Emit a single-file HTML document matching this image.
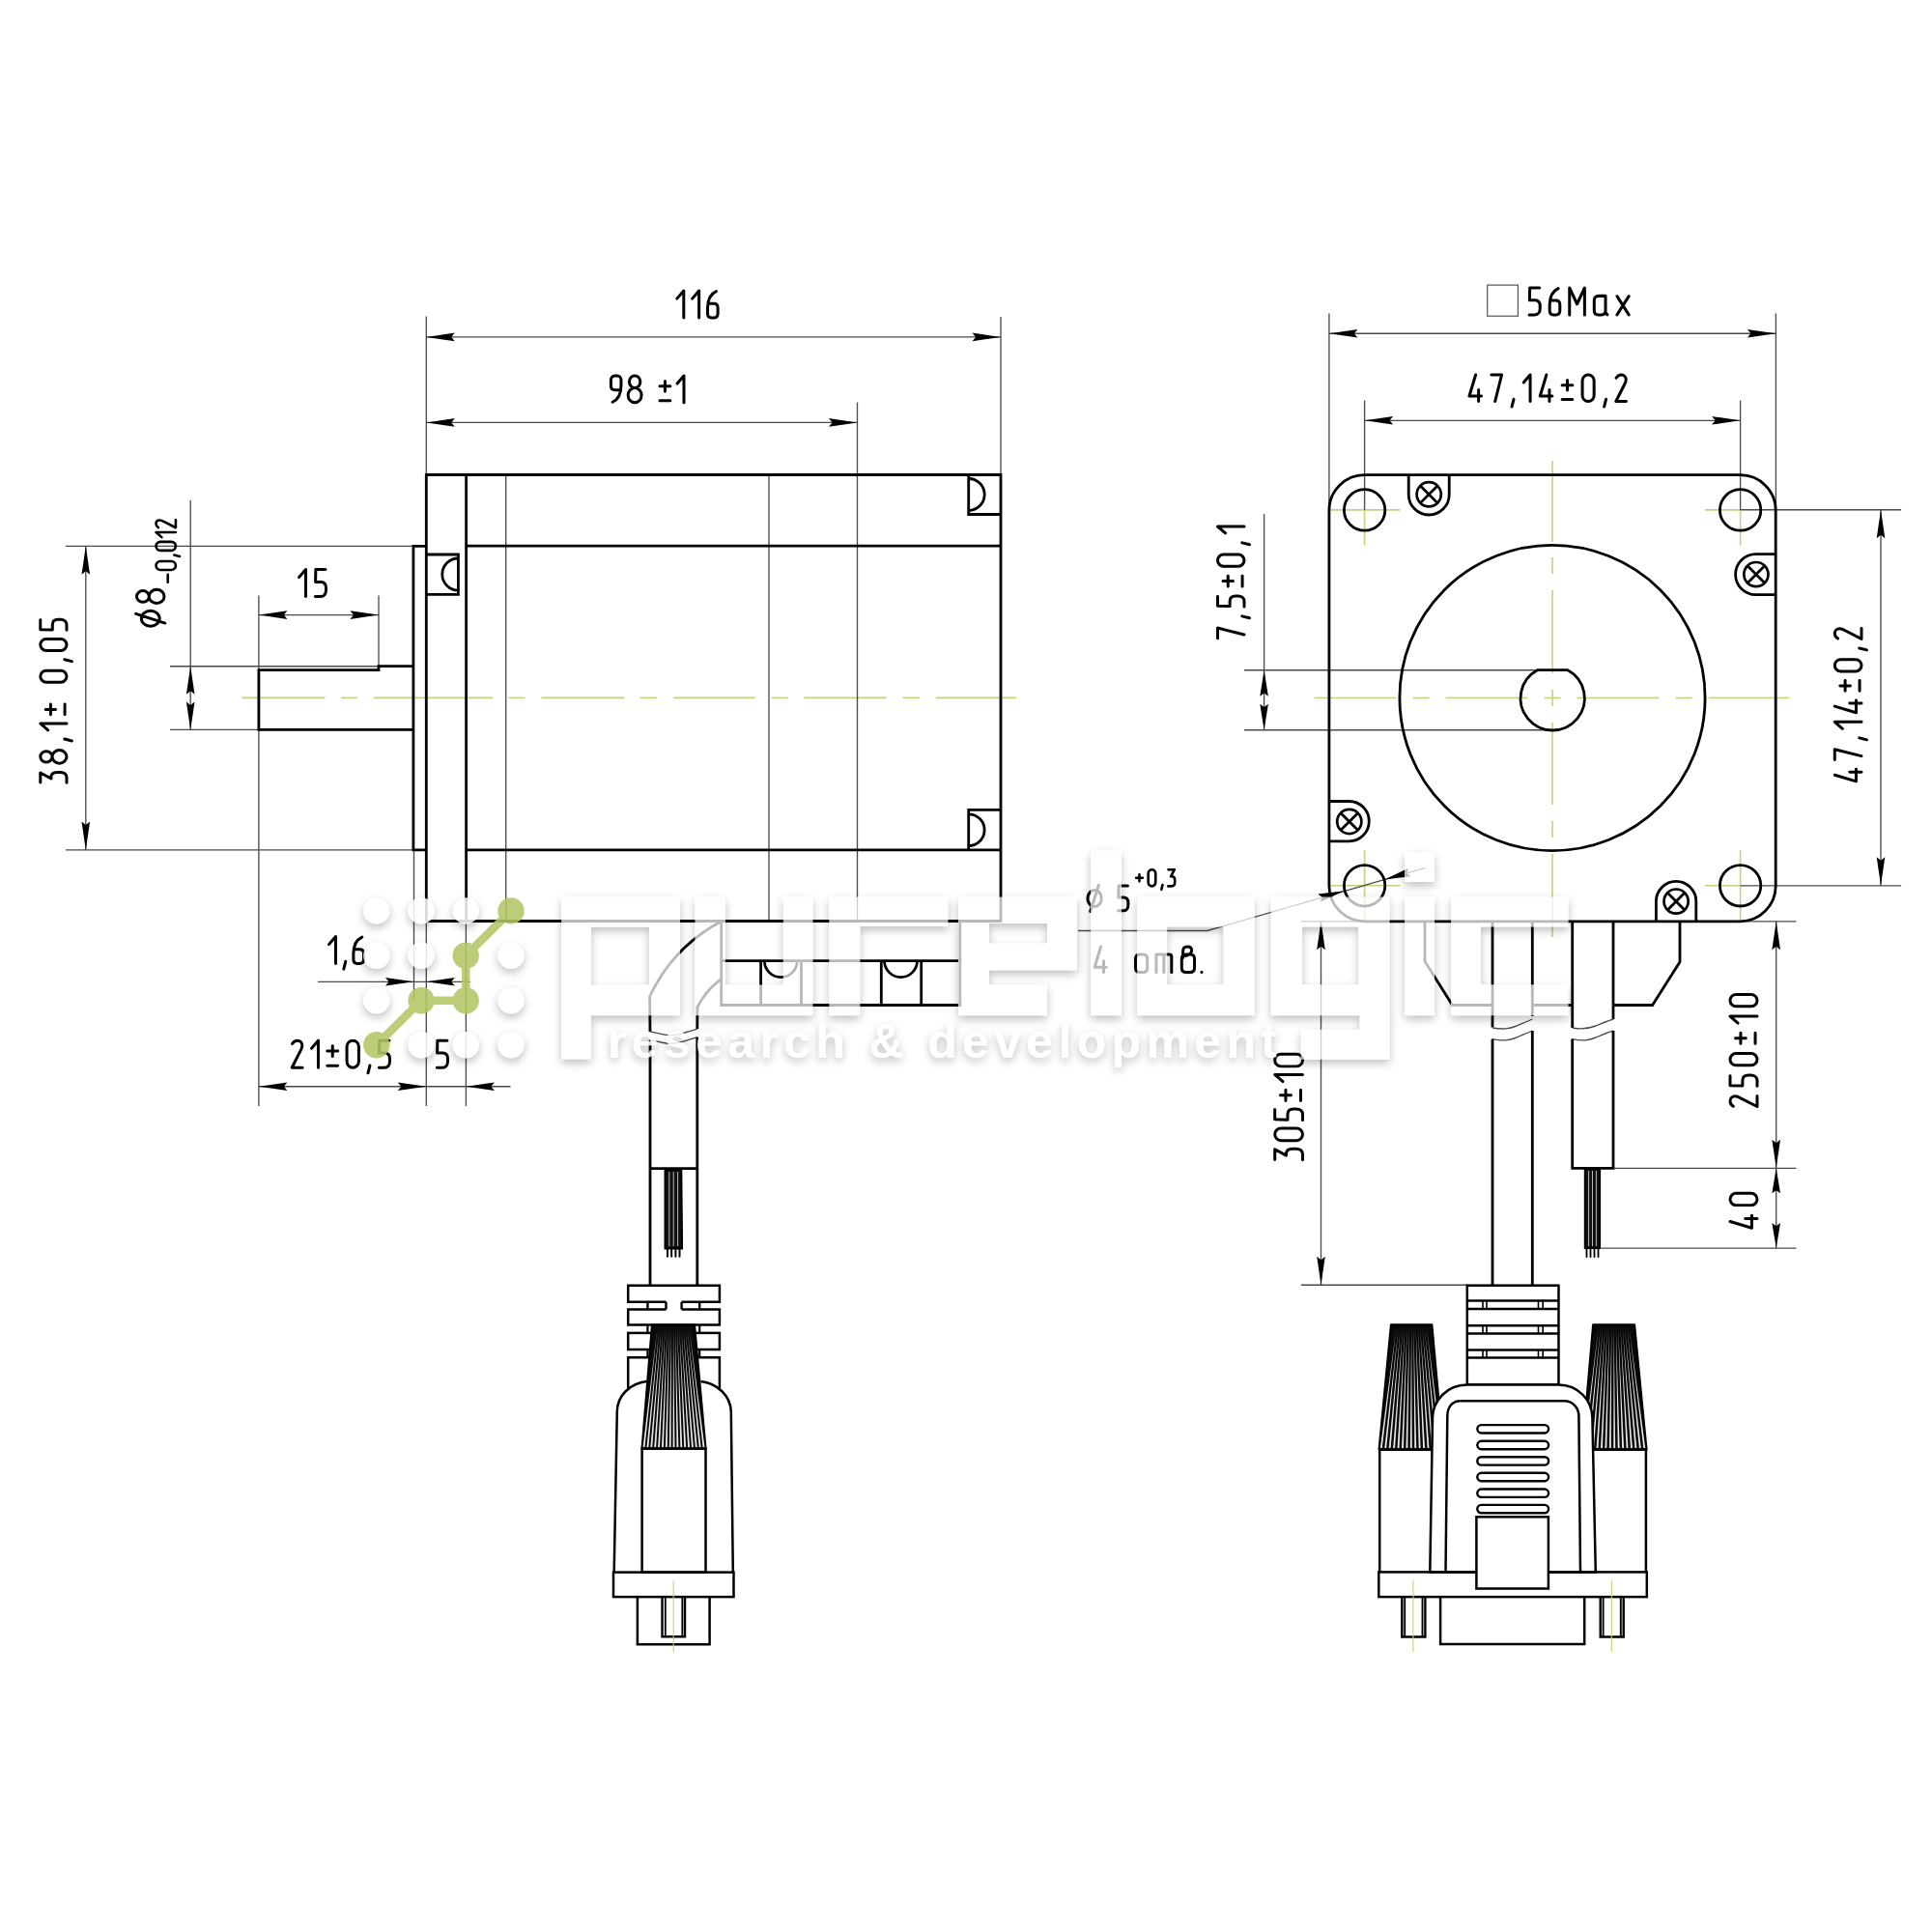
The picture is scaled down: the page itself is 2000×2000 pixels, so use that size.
<!DOCTYPE html>
<html><head><meta charset="utf-8"><style>
html,body{margin:0;padding:0;background:#fff;}
body{width:2000px;height:2000px;overflow:hidden;font-family:"Liberation Sans",sans-serif;}
svg{display:block;}
</style></head><body>
<svg width="2000" height="2000" viewBox="0 0 2000 2000">
<defs>
<filter id="sh" x="-20%" y="-20%" width="140%" height="160%">
<feGaussianBlur in="SourceAlpha" stdDeviation="5"/>
<feOffset dx="0" dy="4" result="b"/>
<feComposite in="b" in2="SourceAlpha" operator="out" result="o"/>
<feComponentTransfer in="o"><feFuncA type="linear" slope="0.25"/></feComponentTransfer>
</filter>
</defs>
<rect width="2000" height="2000" fill="#fff"/>
<line x1="250.6" y1="722.4" x2="336.6" y2="722.4" stroke="#c3d27c" stroke-width="1.6"/>
<line x1="353.1" y1="722.4" x2="370.1" y2="722.4" stroke="#c3d27c" stroke-width="1.6"/>
<line x1="387.1" y1="722.4" x2="510" y2="722.4" stroke="#c3d27c" stroke-width="1.6"/>
<line x1="526.5" y1="722.4" x2="543.5" y2="722.4" stroke="#c3d27c" stroke-width="1.6"/>
<line x1="560.5" y1="722.4" x2="646.4" y2="722.4" stroke="#c3d27c" stroke-width="1.6"/>
<line x1="662.4" y1="722.4" x2="679.8" y2="722.4" stroke="#c3d27c" stroke-width="1.6"/>
<line x1="697" y1="722.4" x2="781.7" y2="722.4" stroke="#c3d27c" stroke-width="1.6"/>
<line x1="798.7" y1="722.4" x2="815.7" y2="722.4" stroke="#c3d27c" stroke-width="1.6"/>
<line x1="832.4" y1="722.4" x2="917.8" y2="722.4" stroke="#c3d27c" stroke-width="1.6"/>
<line x1="934.6" y1="722.4" x2="952" y2="722.4" stroke="#c3d27c" stroke-width="1.6"/>
<line x1="968.7" y1="722.4" x2="1052.4" y2="722.4" stroke="#c3d27c" stroke-width="1.6"/>
<line x1="441.3" y1="327.5" x2="441.3" y2="491.5" stroke="#4a4a4a" stroke-width="1.35"/>
<line x1="1036" y1="328" x2="1036" y2="491.5" stroke="#4a4a4a" stroke-width="1.35"/>
<line x1="441.3" y1="348.9" x2="1036" y2="348.9" stroke="#4a4a4a" stroke-width="1.35"/>
<path d="M441.3,348.9 L470.8,344.6 L467.26,348.9 L470.8,353.2Z" fill="#000" stroke="none"/>
<path d="M1036,348.9 L1006.5,353.2 L1010.04,348.9 L1006.5,344.6Z" fill="#000" stroke="none"/>
<line x1="887.5" y1="416.5" x2="887.5" y2="953.5" stroke="#4a4a4a" stroke-width="1.35"/>
<line x1="441.3" y1="437.4" x2="887.5" y2="437.4" stroke="#4a4a4a" stroke-width="1.35"/>
<path d="M441.3,437.4 L470.8,433.1 L467.26,437.4 L470.8,441.7Z" fill="#000" stroke="none"/>
<path d="M887.5,437.4 L858,441.7 L861.54,437.4 L858,433.1Z" fill="#000" stroke="none"/>
<line x1="523.7" y1="491.5" x2="523.7" y2="953.5" stroke="#4a4a4a" stroke-width="1.35"/>
<line x1="796" y1="491.5" x2="796" y2="953.5" stroke="#4a4a4a" stroke-width="1.35"/>
<line x1="68" y1="565.3" x2="427.9" y2="565.3" stroke="#4a4a4a" stroke-width="1.35"/>
<line x1="68" y1="879.9" x2="427.9" y2="879.9" stroke="#4a4a4a" stroke-width="1.35"/>
<line x1="88.8" y1="565.3" x2="88.8" y2="879.9" stroke="#4a4a4a" stroke-width="1.35"/>
<path d="M88.8,565.3 L93.1,594.8 L88.8,591.26 L84.5,594.8Z" fill="#000" stroke="none"/>
<path d="M88.8,879.9 L84.5,850.4 L88.8,853.94 L93.1,850.4Z" fill="#000" stroke="none"/>
<line x1="197.2" y1="518" x2="197.2" y2="755.4" stroke="#4a4a4a" stroke-width="1.35"/>
<line x1="176" y1="689.7" x2="392" y2="689.7" stroke="#4a4a4a" stroke-width="1.35"/>
<line x1="176" y1="755.4" x2="267.9" y2="755.4" stroke="#4a4a4a" stroke-width="1.35"/>
<path d="M197.2,689.7 L201.5,718.7 L197.2,715.22 L192.9,718.7Z" fill="#000" stroke="none"/>
<path d="M197.2,755.4 L192.9,726.4 L197.2,729.88 L201.5,726.4Z" fill="#000" stroke="none"/>
<line x1="267.9" y1="616.5" x2="267.9" y2="1145" stroke="#4a4a4a" stroke-width="1.35"/>
<line x1="392" y1="616.5" x2="392" y2="689.7" stroke="#4a4a4a" stroke-width="1.35"/>
<line x1="267.9" y1="636.6" x2="392" y2="636.6" stroke="#4a4a4a" stroke-width="1.35"/>
<path d="M267.9,636.6 L297.4,632.3 L293.86,636.6 L297.4,640.9Z" fill="#000" stroke="none"/>
<path d="M392,636.6 L362.5,640.9 L366.04,636.6 L362.5,632.3Z" fill="#000" stroke="none"/>
<line x1="428.5" y1="880" x2="428.5" y2="1036" stroke="#4a4a4a" stroke-width="1.35"/>
<line x1="441.3" y1="953.5" x2="441.3" y2="1145" stroke="#4a4a4a" stroke-width="1.35"/>
<line x1="482.4" y1="953.5" x2="482.4" y2="1145" stroke="#4a4a4a" stroke-width="1.35"/>
<line x1="329" y1="1016.3" x2="487" y2="1016.3" stroke="#4a4a4a" stroke-width="1.35"/>
<path d="M428.5,1016.3 L399,1020.6 L402.54,1016.3 L399,1012Z" fill="#000" stroke="none"/>
<path d="M441.3,1016.3 L470.8,1012 L467.26,1016.3 L470.8,1020.6Z" fill="#000" stroke="none"/>
<line x1="267.9" y1="1124.7" x2="528.5" y2="1124.7" stroke="#4a4a4a" stroke-width="1.35"/>
<path d="M267.9,1124.7 L297.4,1120.4 L293.86,1124.7 L297.4,1129Z" fill="#000" stroke="none"/>
<path d="M441.3,1124.7 L411.8,1129 L415.34,1124.7 L411.8,1120.4Z" fill="#000" stroke="none"/>
<path d="M482.4,1124.7 L511.9,1120.4 L508.36,1124.7 L511.9,1129Z" fill="#000" stroke="none"/>
<path d="M441.3,953.5 L441.3,491.5 L1036,491.5 L1036,953.5 L441.3,953.5" stroke="#000" stroke-width="2.8" fill="none"/>
<line x1="482.6" y1="491.5" x2="482.6" y2="953.5" stroke="#000" stroke-width="2.8"/>
<line x1="482.6" y1="565.2" x2="1036" y2="565.2" stroke="#000" stroke-width="2.8"/>
<line x1="482.6" y1="879.9" x2="1036" y2="879.9" stroke="#000" stroke-width="2.8"/>
<path d="M441.3,565.4 L427.9,565.4 L427.9,879.9 L441.3,879.9" stroke="#000" stroke-width="2.8" fill="none"/>
<path d="M427.9,689.7 L392,689.7 L392,693.6 L267.9,693.6 L267.9,755.4 L427.9,755.4" stroke="#000" stroke-width="2.8" fill="none"/>
<path d="M441.3,574 L474.4,574 L474.4,615.3 L441.3,615.3" stroke="#000" stroke-width="2.8" fill="none"/>
<path d="M474.4,578 A16.6,16.6 0 0 0 474.4,611.2" stroke="#000" stroke-width="2.8" fill="none"/>
<path d="M1002.7,491.5 L1002.7,532.5 L1036,532.5" stroke="#000" stroke-width="2.8" fill="none"/>
<path d="M1002.7,495.5 A16.45,16.45 0 0 1 1002.7,528.4" stroke="#000" stroke-width="2.8" fill="none"/>
<path d="M1036,838.4 L1002.7,838.4 L1002.7,879.9" stroke="#000" stroke-width="2.8" fill="none"/>
<path d="M1002.7,842.8 A16.4,16.4 0 0 1 1002.7,875.6" stroke="#000" stroke-width="2.8" fill="none"/>
<path d="M746.7,953.5 L746.7,1040.5 L993.8,1040.5 L993.8,953.5" stroke="#000" stroke-width="2.8" fill="none"/>
<line x1="746.7" y1="994.6" x2="993.8" y2="994.6" stroke="#000" stroke-width="2.8"/>
<line x1="787.6" y1="994.6" x2="787.6" y2="1040.5" stroke="#000" stroke-width="2.8"/>
<line x1="829.5" y1="994.6" x2="829.5" y2="1040.5" stroke="#000" stroke-width="2.8"/>
<line x1="912.3" y1="994.6" x2="912.3" y2="1040.5" stroke="#000" stroke-width="2.8"/>
<line x1="953.7" y1="994.6" x2="953.7" y2="1040.5" stroke="#000" stroke-width="2.8"/>
<path d="M791.3,994.6 A17,17 0 0 0 825.3,994.6" stroke="#000" stroke-width="2.8" fill="none"/>
<path d="M915.5,994.6 A17,17 0 0 0 949.5,994.6" stroke="#000" stroke-width="2.8" fill="none"/>
<path d="M746.7,953.8 A170.5,170.5 0 0 0 672.6,1031.5 L673,1067.9" stroke="#000" stroke-width="2.8" fill="none"/>
<path d="M746.7,1013.3 A84.2,84.2 0 0 0 721.9,1042.7 L721.8,1065.1" stroke="#000" stroke-width="2.8" fill="none"/>
<path d="M672.6,1067.9 C683,1069.5 688,1071.7 694,1071.7 C704,1071.7 713,1067.5 721.9,1065.1" stroke="#4a4a4a" stroke-width="1.35" fill="none"/>
<path d="M672.6,1076.6 C683,1078.2 688,1080.4 694,1080.4 C704,1080.4 713,1076.2 721.9,1073.7" stroke="#4a4a4a" stroke-width="1.35" fill="none"/>
<line x1="673" y1="1076.6" x2="673" y2="1330.7" stroke="#000" stroke-width="2.8"/>
<line x1="721.8" y1="1073.7" x2="721.8" y2="1330.7" stroke="#000" stroke-width="2.8"/>
<line x1="673" y1="1209.6" x2="721.8" y2="1209.6" stroke="#000" stroke-width="2.8"/>
<path d="M688.5,1211 V1292.4 H706.1 L705.3,1211 Z" fill="#111" stroke="#000" stroke-width="2"/>
<line x1="692.8" y1="1213" x2="692.8" y2="1290" stroke="#fff" stroke-width="0.7"/>
<line x1="697.2" y1="1213" x2="697.2" y2="1290" stroke="#fff" stroke-width="0.7"/>
<line x1="701.6" y1="1213" x2="701.6" y2="1290" stroke="#fff" stroke-width="0.7"/>
<line x1="691" y1="1292" x2="691" y2="1300.7" stroke="#000" stroke-width="2" stroke-linecap="round"/>
<line x1="695.2" y1="1292" x2="695.2" y2="1300.7" stroke="#000" stroke-width="2" stroke-linecap="round"/>
<line x1="699.4" y1="1292" x2="699.4" y2="1300.7" stroke="#000" stroke-width="2" stroke-linecap="round"/>
<line x1="703.5" y1="1292" x2="703.5" y2="1300.7" stroke="#000" stroke-width="2" stroke-linecap="round"/>
<path d="M689.5,1347.8 H650.2 V1330.7 H744.9 V1347.8 H705.6 M689.5,1355.6 H650.2 V1371.6 H744.9 V1355.6 H705.6" stroke="#000" stroke-width="2.5" fill="none"/>
<path d="M670.4,1347.8 V1355.6 M689.5,1347.8 V1355.6 M705.6,1347.8 V1355.6 M724.2,1347.8 V1355.6" stroke="#000" stroke-width="2.4" fill="none"/>
<line x1="670.4" y1="1371.6" x2="670.4" y2="1379.9" stroke="#000" stroke-width="2.2"/>
<line x1="724.2" y1="1371.6" x2="724.2" y2="1379.9" stroke="#000" stroke-width="2.2"/>
<rect x="650.2" y="1379.9" width="94.7" height="17.1" stroke="#000" stroke-width="2.5" fill="none"/>
<line x1="670.4" y1="1397" x2="670.4" y2="1405.3" stroke="#000" stroke-width="2.2"/>
<line x1="724.2" y1="1397" x2="724.2" y2="1405.3" stroke="#000" stroke-width="2.2"/>
<path d="M650.2,1437.3 L650.2,1405.3 L744.9,1405.3 L744.9,1437.3" stroke="#000" stroke-width="2.5" fill="none"/>
<path d="M669.4,1430 C652,1432 639,1445 638.8,1461 L635.7,1627.6" stroke="#000" stroke-width="2.5" fill="none"/>
<path d="M725.5,1430 C743,1432 756,1445 756.8,1461 L758.8,1627.6" stroke="#000" stroke-width="2.5" fill="none"/>
<path d="M675,1371.6 L719,1371.6 L730.5,1499.7 L664.6,1499.7 Z" fill="#0a0a0a" stroke="#000" stroke-width="2.2" stroke-linejoin="round"/>
<path d="M680.44,1375.44 L665.59,1498.2 L667.49,1498.2 Z M682.51,1375.44 L669.46,1498.2 L671.36,1498.2 Z M684.58,1375.44 L673.34,1498.2 L675.24,1498.2 Z M686.65,1375.44 L677.22,1498.2 L679.12,1498.2 Z M688.72,1375.44 L681.09,1498.2 L682.99,1498.2 Z M690.79,1375.44 L684.97,1498.2 L686.87,1498.2 Z M692.86,1375.44 L688.85,1498.2 L690.75,1498.2 Z M694.93,1375.44 L692.72,1498.2 L694.62,1498.2 Z M697,1375.44 L696.6,1498.2 L698.5,1498.2 Z M699.07,1375.44 L700.48,1498.2 L702.38,1498.2 Z M701.14,1375.44 L704.35,1498.2 L706.25,1498.2 Z M703.21,1375.44 L708.23,1498.2 L710.13,1498.2 Z M705.28,1375.44 L712.11,1498.2 L714.01,1498.2 Z M707.35,1375.44 L715.98,1498.2 L717.88,1498.2 Z M709.42,1375.44 L719.86,1498.2 L721.76,1498.2 Z M711.49,1375.44 L723.74,1498.2 L725.64,1498.2 Z M713.56,1375.44 L727.61,1498.2 L729.51,1498.2 Z" fill="#fff" opacity="0.9"/>
<rect x="664.6" y="1499.7" width="65.9" height="127.9" stroke="#000" stroke-width="2.5" fill="none"/>
<rect x="635" y="1627.6" width="124.5" height="25.5" stroke="#000" stroke-width="2.5" fill="none"/>
<path d="M659.9,1653.1 L659.9,1702.3 L734.6,1702.3 L734.6,1653.1" stroke="#000" stroke-width="2.5" fill="none"/>
<path d="M685.5,1653.1 L685.5,1694.2 L709,1694.2 L709,1653.1" stroke="#000" stroke-width="2.4" fill="none"/>
<line x1="688.8" y1="1653.1" x2="688.8" y2="1694.2" stroke="#000" stroke-width="1.8"/>
<line x1="706.3" y1="1653.1" x2="706.3" y2="1694.2" stroke="#000" stroke-width="1.8"/>
<line x1="697.2" y1="1636.3" x2="697.2" y2="1710.3" stroke="#c3d27c" stroke-width="1.1"/>
<line x1="1360.5" y1="722.5" x2="1445.5" y2="722.5" stroke="#c3d27c" stroke-width="1.6"/>
<line x1="1462.5" y1="722.5" x2="1479.5" y2="722.5" stroke="#c3d27c" stroke-width="1.6"/>
<line x1="1496.5" y1="722.5" x2="1581.5" y2="722.5" stroke="#c3d27c" stroke-width="1.6"/>
<line x1="1598.5" y1="722.5" x2="1615.5" y2="722.5" stroke="#c3d27c" stroke-width="1.6"/>
<line x1="1632.5" y1="722.5" x2="1717.5" y2="722.5" stroke="#c3d27c" stroke-width="1.6"/>
<line x1="1734.5" y1="722.5" x2="1751.5" y2="722.5" stroke="#c3d27c" stroke-width="1.6"/>
<line x1="1768.5" y1="722.5" x2="1852.5" y2="722.5" stroke="#c3d27c" stroke-width="1.6"/>
<line x1="1607" y1="477" x2="1607" y2="561" stroke="#c3d27c" stroke-width="1.6"/>
<line x1="1607" y1="577" x2="1607" y2="594" stroke="#c3d27c" stroke-width="1.6"/>
<line x1="1607" y1="611" x2="1607" y2="697" stroke="#c3d27c" stroke-width="1.6"/>
<line x1="1607" y1="714" x2="1607" y2="731" stroke="#c3d27c" stroke-width="1.6"/>
<line x1="1607" y1="748" x2="1607" y2="833" stroke="#c3d27c" stroke-width="1.6"/>
<line x1="1607" y1="850" x2="1607" y2="867" stroke="#c3d27c" stroke-width="1.6"/>
<line x1="1607" y1="884" x2="1607" y2="970" stroke="#c3d27c" stroke-width="1.6"/>
<line x1="1375.9" y1="527.9" x2="1449.3" y2="527.9" stroke="#c3d27c" stroke-width="1.6"/>
<line x1="1412.6" y1="527.9" x2="1412.6" y2="564.6" stroke="#c3d27c" stroke-width="1.6"/>
<line x1="1764.9" y1="527.9" x2="1801.6" y2="527.9" stroke="#c3d27c" stroke-width="1.6"/>
<line x1="1801.6" y1="527.9" x2="1801.6" y2="564.6" stroke="#c3d27c" stroke-width="1.6"/>
<line x1="1375.9" y1="916.8" x2="1449.3" y2="916.8" stroke="#c3d27c" stroke-width="1.6"/>
<line x1="1412.6" y1="880.1" x2="1412.6" y2="953.5" stroke="#c3d27c" stroke-width="1.6"/>
<line x1="1764.9" y1="916.8" x2="1801.6" y2="916.8" stroke="#c3d27c" stroke-width="1.6"/>
<line x1="1801.6" y1="880.1" x2="1801.6" y2="953.5" stroke="#c3d27c" stroke-width="1.6"/>
<line x1="1375.9" y1="324.5" x2="1375.9" y2="528.4" stroke="#4a4a4a" stroke-width="1.35"/>
<line x1="1838.4" y1="324.5" x2="1838.4" y2="528.4" stroke="#4a4a4a" stroke-width="1.35"/>
<line x1="1375.9" y1="345.2" x2="1838.4" y2="345.2" stroke="#4a4a4a" stroke-width="1.35"/>
<path d="M1375.9,345.2 L1405.4,340.9 L1401.86,345.2 L1405.4,349.5Z" fill="#000" stroke="none"/>
<path d="M1838.4,345.2 L1808.9,349.5 L1812.44,345.2 L1808.9,340.9Z" fill="#000" stroke="none"/>
<rect x="1539.7" y="295.1" width="31.7" height="32.1" stroke="#555" stroke-width="1.2" fill="none"/>
<line x1="1412.6" y1="414.6" x2="1412.6" y2="527.9" stroke="#4a4a4a" stroke-width="1.35"/>
<line x1="1801.6" y1="414.6" x2="1801.6" y2="527.9" stroke="#4a4a4a" stroke-width="1.35"/>
<line x1="1412.6" y1="435.3" x2="1801.6" y2="435.3" stroke="#4a4a4a" stroke-width="1.35"/>
<path d="M1412.6,435.3 L1442.1,431 L1438.56,435.3 L1442.1,439.6Z" fill="#000" stroke="none"/>
<path d="M1801.6,435.3 L1772.1,439.6 L1775.64,435.3 L1772.1,431Z" fill="#000" stroke="none"/>
<line x1="1801.6" y1="527.7" x2="1968.1" y2="527.7" stroke="#4a4a4a" stroke-width="1.35"/>
<line x1="1801.6" y1="916.8" x2="1968.1" y2="916.8" stroke="#4a4a4a" stroke-width="1.35"/>
<line x1="1947" y1="527.7" x2="1947" y2="916.8" stroke="#4a4a4a" stroke-width="1.35"/>
<path d="M1947,527.7 L1951.3,557.2 L1947,553.66 L1942.7,557.2Z" fill="#000" stroke="none"/>
<path d="M1947,916.8 L1942.7,887.3 L1947,890.84 L1951.3,887.3Z" fill="#000" stroke="none"/>
<line x1="1288" y1="693.7" x2="1591.4" y2="693.7" stroke="#4a4a4a" stroke-width="1.35"/>
<line x1="1288" y1="755.7" x2="1607" y2="755.7" stroke="#4a4a4a" stroke-width="1.35"/>
<line x1="1308.6" y1="532.2" x2="1308.6" y2="755.7" stroke="#4a4a4a" stroke-width="1.35"/>
<path d="M1308.6,693.7 L1312.9,720.7 L1308.6,717.46 L1304.3,720.7Z" fill="#000" stroke="none"/>
<path d="M1308.6,755.7 L1304.3,728.7 L1308.6,731.94 L1312.9,728.7Z" fill="#000" stroke="none"/>
<line x1="1801.6" y1="953.8" x2="1859.4" y2="953.8" stroke="#4a4a4a" stroke-width="1.35"/>
<line x1="1670.4" y1="1209.3" x2="1859.4" y2="1209.3" stroke="#4a4a4a" stroke-width="1.35"/>
<line x1="1657.5" y1="1292.1" x2="1859.4" y2="1292.1" stroke="#4a4a4a" stroke-width="1.35"/>
<line x1="1838.7" y1="953.8" x2="1838.7" y2="1292.1" stroke="#4a4a4a" stroke-width="1.35"/>
<path d="M1838.7,953.8 L1843,983.3 L1838.7,979.76 L1834.4,983.3Z" fill="#000" stroke="none"/>
<path d="M1838.7,1209.3 L1834.4,1179.8 L1838.7,1183.34 L1843,1179.8Z" fill="#000" stroke="none"/>
<path d="M1838.7,1209.3 L1843,1235.3 L1838.7,1232.18 L1834.4,1235.3Z" fill="#000" stroke="none"/>
<path d="M1838.7,1292.1 L1834.4,1266.1 L1838.7,1269.22 L1843,1266.1Z" fill="#000" stroke="none"/>
<line x1="1346.9" y1="953.8" x2="1412" y2="953.8" stroke="#4a4a4a" stroke-width="1.35"/>
<line x1="1346.9" y1="1330.2" x2="1518.8" y2="1330.2" stroke="#4a4a4a" stroke-width="1.35"/>
<line x1="1367.5" y1="953.8" x2="1367.5" y2="1330.2" stroke="#4a4a4a" stroke-width="1.35"/>
<path d="M1367.5,953.8 L1371.8,983.3 L1367.5,979.76 L1363.2,983.3Z" fill="#000" stroke="none"/>
<path d="M1367.5,1330.2 L1363.2,1300.7 L1367.5,1304.24 L1371.8,1300.7Z" fill="#000" stroke="none"/>
<path d="M1116,963.5 L1249.8,963.5 L1475.4,898.3" stroke="#4a4a4a" stroke-width="1.35" fill="none"/>
<path d="M1391.5,922.2 L1366.76,933.83 L1368.67,928.8 L1364.37,925.57Z" fill="#000" stroke="none"/>
<path d="M1433.2,910.5 L1457.94,898.87 L1456.03,903.9 L1460.33,907.13Z" fill="#000" stroke="none"/>
<path d="M1412.6,491.7 H1801.5 A36.7,36.7 0 0 1 1838.2,528.4 V917.1 A36.7,36.7 0 0 1 1801.5,953.8 H1412.6 A36.7,36.7 0 0 1 1375.9,917.1 V528.4 A36.7,36.7 0 0 1 1412.6,491.7 Z" stroke="#000" stroke-width="2.8" fill="none"/>
<circle cx="1412.6" cy="527.9" r="21.2" stroke="#000" stroke-width="2.8" fill="none"/>
<circle cx="1801.6" cy="527.9" r="21.2" stroke="#000" stroke-width="2.8" fill="none"/>
<circle cx="1412.6" cy="916.8" r="21.2" stroke="#000" stroke-width="2.8" fill="none"/>
<circle cx="1801.6" cy="916.8" r="21.2" stroke="#000" stroke-width="2.8" fill="none"/>
<circle cx="1607" cy="722.5" r="158.1" stroke="#000" stroke-width="2.8" fill="none"/>
<path d="M1591.4,693.7 H1623 A33.15,33.15 0 1 1 1591.4,693.7 Z" stroke="#000" stroke-width="2.8" fill="none"/>
<path d="M1458.2,491.7 V512 A21,21 0 0 0 1500.2,512 V491.7" stroke="#000" stroke-width="2.8" fill="none"/>
<circle cx="1479.2" cy="511.8" r="12.6" stroke="#000" stroke-width="2.7" fill="none"/>
<line x1="1470.13" y1="502.73" x2="1488.27" y2="520.87" stroke="#000" stroke-width="2.8"/>
<line x1="1470.13" y1="520.87" x2="1488.27" y2="502.73" stroke="#000" stroke-width="2.8"/>
<path d="M1838.2,573.7 H1817.6 A21,21 0 0 0 1817.6,615.7 H1838.2" stroke="#000" stroke-width="2.8" fill="none"/>
<circle cx="1817.9" cy="594.6" r="12.6" stroke="#000" stroke-width="2.7" fill="none"/>
<line x1="1808.83" y1="585.53" x2="1826.97" y2="603.67" stroke="#000" stroke-width="2.8"/>
<line x1="1808.83" y1="603.67" x2="1826.97" y2="585.53" stroke="#000" stroke-width="2.8"/>
<path d="M1375.9,829.5 H1396.6 A20.65,20.65 0 0 1 1396.6,870.8 H1375.9" stroke="#000" stroke-width="2.8" fill="none"/>
<circle cx="1396.8" cy="850.5" r="12.6" stroke="#000" stroke-width="2.7" fill="none"/>
<line x1="1387.73" y1="841.43" x2="1405.87" y2="859.57" stroke="#000" stroke-width="2.8"/>
<line x1="1387.73" y1="859.57" x2="1405.87" y2="841.43" stroke="#000" stroke-width="2.8"/>
<path d="M1714.4,953.8 V933.1 A20.7,20.7 0 0 1 1755.8,933.1 V953.8" stroke="#000" stroke-width="2.8" fill="none"/>
<circle cx="1735.1" cy="933.1" r="12.6" stroke="#000" stroke-width="2.7" fill="none"/>
<line x1="1726.03" y1="924.03" x2="1744.17" y2="942.17" stroke="#000" stroke-width="2.8"/>
<line x1="1726.03" y1="942.17" x2="1744.17" y2="924.03" stroke="#000" stroke-width="2.8"/>
<path d="M1475,953.8 L1475,995.2 L1503.5,1040.5 L1545,1040.5" stroke="#000" stroke-width="2.8" fill="none"/>
<path d="M1586.3,1040.5 L1627.7,1040.5" stroke="#000" stroke-width="2.8" fill="none"/>
<path d="M1670,1040.5 L1710.6,1040.5 L1739,995.8 L1739,953.8" stroke="#000" stroke-width="2.8" fill="none"/>
<line x1="1545" y1="953.8" x2="1545" y2="1063.5" stroke="#000" stroke-width="2.8"/>
<line x1="1586.3" y1="953.8" x2="1586.3" y2="1052" stroke="#000" stroke-width="2.8"/>
<path d="M1545,1064 C1556,1066 1562,1065 1570,1062 C1577,1059 1582,1057 1586.3,1055" stroke="#4a4a4a" stroke-width="1.35" fill="none"/>
<path d="M1545,1075.6 C1556,1078 1562,1077 1570,1074 C1577,1071 1582,1069 1586.3,1067" stroke="#4a4a4a" stroke-width="1.35" fill="none"/>
<line x1="1545" y1="1075.6" x2="1545" y2="1330.7" stroke="#000" stroke-width="2.8"/>
<line x1="1586.3" y1="1067" x2="1586.3" y2="1330.7" stroke="#000" stroke-width="2.8"/>
<line x1="1627.7" y1="953.8" x2="1627.7" y2="1064" stroke="#000" stroke-width="2.8"/>
<line x1="1670" y1="953.8" x2="1670" y2="1055" stroke="#000" stroke-width="2.8"/>
<path d="M1627.7,1064 C1638,1066 1644,1065 1652,1062 C1659,1059 1664,1057 1670,1055" stroke="#4a4a4a" stroke-width="1.35" fill="none"/>
<path d="M1627.7,1075.6 C1638,1078 1644,1077 1652,1074 C1659,1071 1664,1069 1670,1067" stroke="#4a4a4a" stroke-width="1.35" fill="none"/>
<path d="M1627.7,1075.6 L1627.7,1209.3 L1670,1209.3 L1670,1067" stroke="#000" stroke-width="2.8" fill="none"/>
<path d="M1640.7,1210 V1292 H1656.2 V1210 Z" fill="#111" stroke="#000" stroke-width="1.8"/>
<line x1="1644.6" y1="1212" x2="1644.6" y2="1290" stroke="#fff" stroke-width="0.7"/>
<line x1="1648.5" y1="1212" x2="1648.5" y2="1290" stroke="#fff" stroke-width="0.7"/>
<line x1="1652.4" y1="1212" x2="1652.4" y2="1290" stroke="#fff" stroke-width="0.7"/>
<line x1="1642.5" y1="1292" x2="1642.5" y2="1301" stroke="#000" stroke-width="1.8" stroke-linecap="round"/>
<line x1="1646.5" y1="1292" x2="1646.5" y2="1301" stroke="#000" stroke-width="1.8" stroke-linecap="round"/>
<line x1="1650.5" y1="1292" x2="1650.5" y2="1301" stroke="#000" stroke-width="1.8" stroke-linecap="round"/>
<line x1="1654.5" y1="1292" x2="1654.5" y2="1301" stroke="#000" stroke-width="1.8" stroke-linecap="round"/>
<rect x="1518.8" y="1330.7" width="94.7" height="102.8" stroke="#000" stroke-width="2.5" fill="none"/>
<line x1="1518.8" y1="1346.6" x2="1613.5" y2="1346.6" stroke="#000" stroke-width="2.5"/>
<line x1="1518.8" y1="1355.1" x2="1613.5" y2="1355.1" stroke="#000" stroke-width="2.5"/>
<line x1="1535" y1="1346.6" x2="1535" y2="1355.1" stroke="#000" stroke-width="1.6"/>
<line x1="1539" y1="1346.6" x2="1539" y2="1355.1" stroke="#000" stroke-width="1.6"/>
<line x1="1592.5" y1="1346.6" x2="1592.5" y2="1355.1" stroke="#000" stroke-width="1.6"/>
<line x1="1597.2" y1="1346.6" x2="1597.2" y2="1355.1" stroke="#000" stroke-width="1.6"/>
<line x1="1518.8" y1="1372.2" x2="1613.5" y2="1372.2" stroke="#000" stroke-width="2.5"/>
<line x1="1518.8" y1="1380.4" x2="1613.5" y2="1380.4" stroke="#000" stroke-width="2.5"/>
<line x1="1535" y1="1372.2" x2="1535" y2="1380.4" stroke="#000" stroke-width="1.6"/>
<line x1="1539" y1="1372.2" x2="1539" y2="1380.4" stroke="#000" stroke-width="1.6"/>
<line x1="1592.5" y1="1372.2" x2="1592.5" y2="1380.4" stroke="#000" stroke-width="1.6"/>
<line x1="1597.2" y1="1372.2" x2="1597.2" y2="1380.4" stroke="#000" stroke-width="1.6"/>
<line x1="1518.8" y1="1397.5" x2="1613.5" y2="1397.5" stroke="#000" stroke-width="2.5"/>
<line x1="1518.8" y1="1405.6" x2="1613.5" y2="1405.6" stroke="#000" stroke-width="2.5"/>
<line x1="1535" y1="1397.5" x2="1535" y2="1405.6" stroke="#000" stroke-width="1.6"/>
<line x1="1539" y1="1397.5" x2="1539" y2="1405.6" stroke="#000" stroke-width="1.6"/>
<line x1="1592.5" y1="1397.5" x2="1592.5" y2="1405.6" stroke="#000" stroke-width="1.6"/>
<line x1="1597.2" y1="1397.5" x2="1597.2" y2="1405.6" stroke="#000" stroke-width="1.6"/>
<path d="M1440,1371.4 L1482.3,1371.4 L1494,1500.5 L1427.6,1500.5 Z" fill="#0a0a0a" stroke="#000" stroke-width="2.2" stroke-linejoin="round"/>
<path d="M1445.36,1375.27 L1428.86,1499 L1430.76,1499 Z M1447.61,1375.27 L1433.29,1499 L1435.19,1499 Z M1449.87,1375.27 L1437.72,1499 L1439.62,1499 Z M1452.13,1375.27 L1442.14,1499 L1444.04,1499 Z M1454.38,1375.27 L1446.57,1499 L1448.47,1499 Z M1456.64,1375.27 L1451,1499 L1452.9,1499 Z M1458.89,1375.27 L1455.42,1499 L1457.32,1499 Z M1461.15,1375.27 L1459.85,1499 L1461.75,1499 Z M1463.41,1375.27 L1464.28,1499 L1466.18,1499 Z M1465.66,1375.27 L1468.7,1499 L1470.6,1499 Z M1467.92,1375.27 L1473.13,1499 L1475.03,1499 Z M1470.17,1375.27 L1477.56,1499 L1479.46,1499 Z M1472.43,1375.27 L1481.98,1499 L1483.88,1499 Z M1474.69,1375.27 L1486.41,1499 L1488.31,1499 Z M1476.94,1375.27 L1490.84,1499 L1492.74,1499 Z" fill="#fff" opacity="0.9"/>
<path d="M1649.2,1371.4 L1692,1371.4 L1704.5,1500.5 L1638,1500.5 Z" fill="#0a0a0a" stroke="#000" stroke-width="2.2" stroke-linejoin="round"/>
<path d="M1654.62,1375.27 L1639.27,1499 L1641.17,1499 Z M1656.9,1375.27 L1643.7,1499 L1645.6,1499 Z M1659.19,1375.27 L1648.13,1499 L1650.03,1499 Z M1661.47,1375.27 L1652.57,1499 L1654.47,1499 Z M1663.75,1375.27 L1657,1499 L1658.9,1499 Z M1666.03,1375.27 L1661.43,1499 L1663.33,1499 Z M1668.32,1375.27 L1665.87,1499 L1667.77,1499 Z M1670.6,1375.27 L1670.3,1499 L1672.2,1499 Z M1672.88,1375.27 L1674.73,1499 L1676.63,1499 Z M1675.17,1375.27 L1679.17,1499 L1681.07,1499 Z M1677.45,1375.27 L1683.6,1499 L1685.5,1499 Z M1679.73,1375.27 L1688.03,1499 L1689.93,1499 Z M1682.01,1375.27 L1692.47,1499 L1694.37,1499 Z M1684.3,1375.27 L1696.9,1499 L1698.8,1499 Z M1686.58,1375.27 L1701.33,1499 L1703.23,1499 Z" fill="#fff" opacity="0.9"/>
<path d="M1428.2,1500.7 L1428.2,1627.4" stroke="#000" stroke-width="2.5" fill="none"/>
<path d="M1703.9,1500.7 L1703.9,1627.4" stroke="#000" stroke-width="2.5" fill="none"/>
<line x1="1428.2" y1="1500.7" x2="1482" y2="1500.7" stroke="#000" stroke-width="2.5"/>
<line x1="1650" y1="1500.7" x2="1703.9" y2="1500.7" stroke="#000" stroke-width="2.5"/>
<path d="M1518.8,1433.5 H1613.5 C1634,1433.5 1648.4,1450 1648.4,1468 L1651.8,1627.4 H1480.3 L1483,1468 C1483,1450 1498,1433.5 1518.8,1433.5 Z" fill="#fff" stroke="#000" stroke-width="2.5"/>
<path d="M1511.8,1450.3 H1619 C1628,1450.3 1634.4,1457 1634.4,1466 L1636,1627.4" stroke="#000" stroke-width="2.5" fill="none"/>
<path d="M1511.8,1450.3 C1503,1450.3 1498.3,1457 1498.3,1466 L1496.5,1627.4" stroke="#000" stroke-width="2.5" fill="none"/>
<rect x="1529.3" y="1475.1" width="73.8" height="8.4" rx="4.2" stroke="#000" stroke-width="2.4" fill="none"/>
<rect x="1529.3" y="1491.8" width="73.8" height="8.4" rx="4.2" stroke="#000" stroke-width="2.4" fill="none"/>
<rect x="1529.3" y="1508.2" width="73.8" height="8.4" rx="4.2" stroke="#000" stroke-width="2.4" fill="none"/>
<rect x="1529.3" y="1524.8" width="73.8" height="8.4" rx="4.2" stroke="#000" stroke-width="2.4" fill="none"/>
<rect x="1529.3" y="1541.5" width="73.8" height="8.4" rx="4.2" stroke="#000" stroke-width="2.4" fill="none"/>
<rect x="1529.3" y="1557.9" width="73.8" height="8.4" rx="4.2" stroke="#000" stroke-width="2.4" fill="none"/>
<rect x="1427.3" y="1627.4" width="277.5" height="25.7" stroke="#000" stroke-width="2.5" fill="none"/>
<path d="M1491.1,1653.1 L1491.1,1702 L1640.2,1702 L1640.2,1653.1" stroke="#000" stroke-width="2.5" fill="none"/>
<rect x="1528.4" y="1570.3" width="74.5" height="74.2" fill="#fff" stroke="#000" stroke-width="2.5"/>
<path d="M1451.3,1653.1 L1451.3,1694.5 L1475.4,1694.5 L1475.4,1653.1" stroke="#000" stroke-width="2.4" fill="none"/>
<line x1="1454.2" y1="1653.1" x2="1454.2" y2="1694.5" stroke="#000" stroke-width="1.9"/>
<line x1="1472.5" y1="1653.1" x2="1472.5" y2="1694.5" stroke="#000" stroke-width="1.9"/>
<path d="M1656.7,1653.1 L1656.7,1694.5 L1680.7,1694.5 L1680.7,1653.1" stroke="#000" stroke-width="2.4" fill="none"/>
<line x1="1659.6" y1="1653.1" x2="1659.6" y2="1694.5" stroke="#000" stroke-width="1.9"/>
<line x1="1677.8" y1="1653.1" x2="1677.8" y2="1694.5" stroke="#000" stroke-width="1.9"/>
<line x1="1462.9" y1="1635.7" x2="1462.9" y2="1710.2" stroke="#c3d27c" stroke-width="1.1"/>
<line x1="1668.3" y1="1635.7" x2="1668.3" y2="1710.2" stroke="#c3d27c" stroke-width="1.1"/>
<g transform="translate(700.8,301) scale(2.8)" fill="none" stroke="#000" stroke-width="1.07" stroke-linecap="round" stroke-linejoin="round"><path transform="translate(0,0)" d="M0,2.9 L2.5,0 V10"/><path transform="translate(5.65,0)" d="M0,2.9 L2.5,0 V10"/><path transform="translate(11.31,0)" d="M3.2,0.2 C1.2,1.1 0,3 0,6.4 V8.4 C0,9.4 0.6,10 1.5,10 H2.3 C3.2,10 3.8,9.4 3.8,8.4 V6.3 C3.8,5.3 3.2,4.7 2.3,4.7 H0.2"/></g>
<g transform="translate(632.4,389) scale(2.78)" fill="none" stroke="#000" stroke-width="1.08" stroke-linecap="round" stroke-linejoin="round"><path transform="translate(0,0)" d="M0.6,9.8 C2.6,8.9 3.8,7 3.8,3.6 V1.6 C3.8,0.6 3.2,0 2.3,0 H1.5 C0.6,0 0,0.6 0,1.6 V3.7 C0,4.7 0.6,5.3 1.5,5.3 H3.6"/><path transform="translate(6.4,0)" d="M2.5,0 A2.05,2.25 0 1 0 2.5,4.5 A2.05,2.25 0 1 0 2.5,0 Z M2.5,4.5 A2.5,2.75 0 1 0 2.5,10 A2.5,2.75 0 1 0 2.5,4.5 Z"/><path transform="translate(18.2,0)" d="M0,3.9 H3.9 M1.95,2 V5.8 M0,9.3 H3.9"/><path transform="translate(24.69,0)" d="M0,2.9 L2.5,0 V10"/></g>
<g transform="translate(309.5,589.5) scale(2.8)" fill="none" stroke="#000" stroke-width="1.07" stroke-linecap="round" stroke-linejoin="round"><path transform="translate(0,0)" d="M0,2.9 L2.5,0 V10"/><path transform="translate(6,0)" d="M3.8,0 H0.2 L0.1,4.6 H2.1 C3.3,4.6 4,5.4 4,6.8 V7.6 C4,9.1 3.2,10 2,10 H0"/></g>
<g transform="translate(41.8,810.3) rotate(-90) scale(2.72)" fill="none" stroke="#000" stroke-width="1.1" stroke-linecap="round" stroke-linejoin="round"><path transform="translate(0,0)" d="M0.1,0 H3.8 L1.6,4.1 H2.1 C3.3,4.1 4,4.9 4,6.3 V7.6 C4,9.1 3.2,10 2,10 H0"/><path transform="translate(7.41,0)" d="M2.5,0 A2.05,2.25 0 1 0 2.5,4.5 A2.05,2.25 0 1 0 2.5,0 Z M2.5,4.5 A2.5,2.75 0 1 0 2.5,10 A2.5,2.75 0 1 0 2.5,4.5 Z"/><path transform="translate(15.83,0)" d="M0.8,9.2 L0.1,12"/><path transform="translate(20.04,0)" d="M0,2.9 L2.5,0 V10"/><path transform="translate(25.96,0)" d="M0,3.9 H3.9 M1.95,2 V5.8 M0,9.3 H3.9"/><path transform="translate(38.29,0)" d="M0,2.2 A2.2,2.2 0 0 1 4.4,2.2 V7.8 A2.2,2.2 0 0 1 0,7.8 Z"/><path transform="translate(46.1,0)" d="M0.8,9.2 L0.1,12"/><path transform="translate(50.32,0)" d="M0,2.2 A2.2,2.2 0 0 1 4.4,2.2 V7.8 A2.2,2.2 0 0 1 0,7.8 Z"/><path transform="translate(58.13,0)" d="M3.8,0 H0.2 L0.1,4.6 H2.1 C3.3,4.6 4,5.4 4,6.8 V7.6 C4,9.1 3.2,10 2,10 H0"/></g>
<g transform="translate(340.5,969.5) scale(2.8)" fill="none" stroke="#000" stroke-width="1.07" stroke-linecap="round" stroke-linejoin="round"><path transform="translate(0,0)" d="M0,2.9 L2.5,0 V10"/><path transform="translate(5.38,0)" d="M0.8,9.2 L0.1,12"/><path transform="translate(9.06,0)" d="M3.2,0.2 C1.2,1.1 0,3 0,6.4 V8.4 C0,9.4 0.6,10 1.5,10 H2.3 C3.2,10 3.8,9.4 3.8,8.4 V6.3 C3.8,5.3 3.2,4.7 2.3,4.7 H0.2"/></g>
<g transform="translate(302.2,1077.2) scale(2.8)" fill="none" stroke="#000" stroke-width="1.07" stroke-linecap="round" stroke-linejoin="round"><path transform="translate(0,0)" d="M0.1,1.2 C0.6,0.4 1.2,0 2,0 C3.1,0 3.8,0.8 3.8,1.9 C3.8,2.6 3.5,3.2 3.1,3.9 L0,10 H3.9"/><path transform="translate(7.24,0)" d="M0,2.9 L2.5,0 V10"/><path transform="translate(13.07,0)" d="M0,3.9 H3.9 M1.95,2 V5.8 M0,9.3 H3.9"/><path transform="translate(20.31,0)" d="M0,2.2 A2.2,2.2 0 0 1 4.4,2.2 V7.8 A2.2,2.2 0 0 1 0,7.8 Z"/><path transform="translate(28.04,0)" d="M0.8,9.2 L0.1,12"/><path transform="translate(32.18,0)" d="M3.8,0 H0.2 L0.1,4.6 H2.1 C3.3,4.6 4,5.4 4,6.8 V7.6 C4,9.1 3.2,10 2,10 H0"/></g>
<g transform="translate(452.3,1077.2) scale(2.8)" fill="none" stroke="#000" stroke-width="1.07" stroke-linecap="round" stroke-linejoin="round"><path transform="translate(0,0)" d="M3.8,0 H0.2 L0.1,4.6 H2.1 C3.3,4.6 4,5.4 4,6.8 V7.6 C4,9.1 3.2,10 2,10 H0"/></g>
<g transform="translate(1583.1,298) scale(2.79)" fill="none" stroke="#000" stroke-width="1.08" stroke-linecap="round" stroke-linejoin="round"><path transform="translate(0,0)" d="M3.8,0 H0.2 L0.1,4.6 H2.1 C3.3,4.6 4,5.4 4,6.8 V7.6 C4,9.1 3.2,10 2,10 H0"/><path transform="translate(7.56,0)" d="M3.2,0.2 C1.2,1.1 0,3 0,6.4 V8.4 C0,9.4 0.6,10 1.5,10 H2.3 C3.2,10 3.8,9.4 3.8,8.4 V6.3 C3.8,5.3 3.2,4.7 2.3,4.7 H0.2"/><path transform="translate(14.93,0)" d="M0,10 V0 L2.8,6 L5.6,0 V10"/><path transform="translate(24.09,0)" d="M4.2,3 H1.6 C0.6,3 0,3.6 0,4.6 V8.4 C0,9.4 0.6,10 1.6,10 H2.6 C3.6,10 4.2,9.4 4.2,8.4 V3 M4.2,9.1 L4.9,10"/><path transform="translate(32.55,0)" d="M0,3.1 L4.4,10 M4.4,3.1 L0,10"/></g>
<g transform="translate(1521,388) scale(2.75)" fill="none" stroke="#000" stroke-width="1.09" stroke-linecap="round" stroke-linejoin="round"><path transform="translate(0,0)" d="M2.4,0 L0,8 H4.6 M3.5,5.6 V10"/><path transform="translate(8.31,0)" d="M0,0 H3.9 L1.4,10"/><path transform="translate(15.92,0)" d="M0.8,9.2 L0.1,12"/><path transform="translate(20.43,0)" d="M0,2.9 L2.5,0 V10"/><path transform="translate(26.65,0)" d="M2.4,0 L0,8 H4.6 M3.5,5.6 V10"/><path transform="translate(34.96,0)" d="M0,3.9 H3.9 M1.95,2 V5.8 M0,9.3 H3.9"/><path transform="translate(42.57,0)" d="M0,2.2 A2.2,2.2 0 0 1 4.4,2.2 V7.8 A2.2,2.2 0 0 1 0,7.8 Z"/><path transform="translate(50.68,0)" d="M0.8,9.2 L0.1,12"/><path transform="translate(55.19,0)" d="M0.1,1.2 C0.6,0.4 1.2,0 2,0 C3.1,0 3.8,0.8 3.8,1.9 C3.8,2.6 3.5,3.2 3.1,3.9 L0,10 H3.9"/></g>
<g transform="translate(1260.5,660.8) rotate(-90) scale(2.75)" fill="none" stroke="#000" stroke-width="1.09" stroke-linecap="round" stroke-linejoin="round"><path transform="translate(0,0)" d="M0,0 H3.9 L1.4,10"/><path transform="translate(7.53,0)" d="M0.8,9.2 L0.1,12"/><path transform="translate(11.97,0)" d="M3.8,0 H0.2 L0.1,4.6 H2.1 C3.3,4.6 4,5.4 4,6.8 V7.6 C4,9.1 3.2,10 2,10 H0"/><path transform="translate(19.6,0)" d="M0,3.9 H3.9 M1.95,2 V5.8 M0,9.3 H3.9"/><path transform="translate(27.14,0)" d="M0,2.2 A2.2,2.2 0 0 1 4.4,2.2 V7.8 A2.2,2.2 0 0 1 0,7.8 Z"/><path transform="translate(35.17,0)" d="M0.8,9.2 L0.1,12"/><path transform="translate(39.61,0)" d="M0,2.9 L2.5,0 V10"/></g>
<g transform="translate(1899.3,808.9) rotate(-90) scale(2.77)" fill="none" stroke="#000" stroke-width="1.08" stroke-linecap="round" stroke-linejoin="round"><path transform="translate(0,0)" d="M2.4,0 L0,8 H4.6 M3.5,5.6 V10"/><path transform="translate(8.07,0)" d="M0,0 H3.9 L1.4,10"/><path transform="translate(15.45,0)" d="M0.8,9.2 L0.1,12"/><path transform="translate(19.72,0)" d="M0,2.9 L2.5,0 V10"/><path transform="translate(25.69,0)" d="M2.4,0 L0,8 H4.6 M3.5,5.6 V10"/><path transform="translate(33.77,0)" d="M0,3.9 H3.9 M1.95,2 V5.8 M0,9.3 H3.9"/><path transform="translate(41.14,0)" d="M0,2.2 A2.2,2.2 0 0 1 4.4,2.2 V7.8 A2.2,2.2 0 0 1 0,7.8 Z"/><path transform="translate(49.01,0)" d="M0.8,9.2 L0.1,12"/><path transform="translate(53.28,0)" d="M0.1,1.2 C0.6,0.4 1.2,0 2,0 C3.1,0 3.8,0.8 3.8,1.9 C3.8,2.6 3.5,3.2 3.1,3.9 L0,10 H3.9"/></g>
<g transform="translate(1319.7,1200.7) rotate(-90) scale(2.88)" fill="none" stroke="#000" stroke-width="1.04" stroke-linecap="round" stroke-linejoin="round"><path transform="translate(0,0)" d="M0.1,0 H3.8 L1.6,4.1 H2.1 C3.3,4.1 4,4.9 4,6.3 V7.6 C4,9.1 3.2,10 2,10 H0"/><path transform="translate(6.96,0)" d="M0,2.2 A2.2,2.2 0 0 1 4.4,2.2 V7.8 A2.2,2.2 0 0 1 0,7.8 Z"/><path transform="translate(14.33,0)" d="M3.8,0 H0.2 L0.1,4.6 H2.1 C3.3,4.6 4,5.4 4,6.8 V7.6 C4,9.1 3.2,10 2,10 H0"/><path transform="translate(21.29,0)" d="M0,3.9 H3.9 M1.95,2 V5.8 M0,9.3 H3.9"/><path transform="translate(28.16,0)" d="M0,2.9 L2.5,0 V10"/><path transform="translate(33.62,0)" d="M0,2.2 A2.2,2.2 0 0 1 4.4,2.2 V7.8 A2.2,2.2 0 0 1 0,7.8 Z"/></g>
<g transform="translate(1791,1145.5) rotate(-90) scale(2.8)" fill="none" stroke="#000" stroke-width="1.07" stroke-linecap="round" stroke-linejoin="round"><path transform="translate(0,0)" d="M0.1,1.2 C0.6,0.4 1.2,0 2,0 C3.1,0 3.8,0.8 3.8,1.9 C3.8,2.6 3.5,3.2 3.1,3.9 L0,10 H3.9"/><path transform="translate(7.57,0)" d="M3.8,0 H0.2 L0.1,4.6 H2.1 C3.3,4.6 4,5.4 4,6.8 V7.6 C4,9.1 3.2,10 2,10 H0"/><path transform="translate(15.23,0)" d="M0,2.2 A2.2,2.2 0 0 1 4.4,2.2 V7.8 A2.2,2.2 0 0 1 0,7.8 Z"/><path transform="translate(23.3,0)" d="M0,3.9 H3.9 M1.95,2 V5.8 M0,9.3 H3.9"/><path transform="translate(30.86,0)" d="M0,2.9 L2.5,0 V10"/><path transform="translate(37.03,0)" d="M0,2.2 A2.2,2.2 0 0 1 4.4,2.2 V7.8 A2.2,2.2 0 0 1 0,7.8 Z"/></g>
<g transform="translate(1791,1271.2) rotate(-90) scale(2.8)" fill="none" stroke="#000" stroke-width="1.07" stroke-linecap="round" stroke-linejoin="round"><path transform="translate(0,0)" d="M2.4,0 L0,8 H4.6 M3.5,5.6 V10"/><path transform="translate(8.42,0)" d="M0,2.2 A2.2,2.2 0 0 1 4.4,2.2 V7.8 A2.2,2.2 0 0 1 0,7.8 Z"/></g>
<g transform="translate(141.5,648.2) rotate(-90) scale(2.85)" fill="none" stroke="#000" stroke-width="1.05" stroke-linecap="round" stroke-linejoin="round"><path transform="translate(0,0)" d="M2.8,1.7 A2.8,3.3 0 1 0 2.8,8.3 A2.8,3.3 0 1 0 2.8,1.7 Z M4.5,-0.3 L1.1,10.3"/><path transform="translate(8.3,0)" d="M2.5,0 A2.05,2.25 0 1 0 2.5,4.5 A2.05,2.25 0 1 0 2.5,0 Z M2.5,4.5 A2.5,2.75 0 1 0 2.5,10 A2.5,2.75 0 1 0 2.5,4.5 Z"/></g>
<g transform="translate(161.5,602.7) rotate(-90) scale(2.04)" fill="none" stroke="#000" stroke-width="1.27" stroke-linecap="round" stroke-linejoin="round"><path transform="translate(0,0)" d="M0,6 H3.9"/><path transform="translate(6.23,0)" d="M0,2.2 A2.2,2.2 0 0 1 4.4,2.2 V7.8 A2.2,2.2 0 0 1 0,7.8 Z"/><path transform="translate(12.97,0)" d="M0.8,9.2 L0.1,12"/><path transform="translate(16.1,0)" d="M0,2.2 A2.2,2.2 0 0 1 4.4,2.2 V7.8 A2.2,2.2 0 0 1 0,7.8 Z"/><path transform="translate(22.83,0)" d="M0,2.9 L2.5,0 V10"/><path transform="translate(27.67,0)" d="M0.1,1.2 C0.6,0.4 1.2,0 2,0 C3.1,0 3.8,0.8 3.8,1.9 C3.8,2.6 3.5,3.2 3.1,3.9 L0,10 H3.9"/></g>
<g transform="translate(1125.9,917.1) scale(2.57)" fill="none" stroke="#000" stroke-width="1.17" stroke-linecap="round" stroke-linejoin="round"><path transform="translate(0,0)" d="M2.8,1.7 A2.8,3.3 0 1 0 2.8,8.3 A2.8,3.3 0 1 0 2.8,1.7 Z M4.5,-0.3 L1.1,10.3"/><path transform="translate(12.34,0)" d="M3.8,0 H0.2 L0.1,4.6 H2.1 C3.3,4.6 4,5.4 4,6.8 V7.6 C4,9.1 3.2,10 2,10 H0"/></g>
<g transform="translate(1176.1,900.2) scale(1.72)" fill="none" stroke="#000" stroke-width="1.51" stroke-linecap="round" stroke-linejoin="round"><path transform="translate(0,0)" d="M0,5 H3.9 M1.95,3 V7"/><path transform="translate(7.3,0)" d="M0,2.2 A2.2,2.2 0 0 1 4.4,2.2 V7.8 A2.2,2.2 0 0 1 0,7.8 Z"/><path transform="translate(15.11,0)" d="M0.8,9.2 L0.1,12"/><path transform="translate(19.31,0)" d="M0.1,0 H3.8 L1.6,4.1 H2.1 C3.3,4.1 4,4.9 4,6.3 V7.6 C4,9.1 3.2,10 2,10 H0"/></g>
<g fill="none" stroke="#000" stroke-width="3" stroke-linecap="round" stroke-linejoin="round" vector-effect="non-scaling-stroke"><path transform="translate(1133.2,980) scale(2.65)" vector-effect="non-scaling-stroke" d="M2.4,0 L0,8 H4.6 M3.5,5.6 V10"/><path transform="translate(1175.5,980) scale(2.65)" vector-effect="non-scaling-stroke" d="M1.7,3 H2.9 C4,3 4.6,3.6 4.6,4.7 V8.3 C4.6,9.4 4,10 2.9,10 H1.7 C0.6,10 0,9.4 0,8.3 V4.7 C0,3.6 0.6,3 1.7,3 Z"/><path transform="translate(1196.9,980) scale(2.65)" vector-effect="non-scaling-stroke" d="M0,10 V3 H5 C5.6,3 6,3.4 6,4 V10 M3,3 V10"/><path transform="translate(1223.3,980) scale(2.65)" vector-effect="non-scaling-stroke" d="M0.5,4.3 V1.7 C0.5,0.6 1.2,0 2.2,0 C3.3,0 3.9,0.6 3.9,1.5 C3.9,2.4 3.1,3.1 1.5,3.6 M0,8.3 V4.7 C0,3.6 0.6,3 1.7,3 H3.3 C4.4,3 5,3.6 5,4.7 V8.3 C5,9.4 4.4,10 3.3,10 H1.7 C0.6,10 0,9.4 0,8.3 Z"/><path transform="translate(1243.5,980) scale(2.65)" vector-effect="non-scaling-stroke" d="M0.15,9.9 L0.2,10"/></g>
<g filter="url(#sh)">
<path d="M581.1,928.4 H704 V1051.3 H581.1 ZM611.8,959.8 V1019.6 H672 V959.8 ZM581.1,1050.3 H611.8 V1096.4 H581.1 Z M719.4,928.4 H751 V1051.3 H719.4 ZM810.8,928.4 H841.6 V1051.3 H810.8 ZM750,1019.6 H812 V1051.3 H750 Z M858.3,928.4 H890.4 V1051.3 H858.3 ZM889.4,928.4 H981.5 V959 H889.4 Z M992,928.4 H1115 V1004.6 H992 ZM1024,956 V976.6 H1084 V956 ZM992,1003.6 H1024 V1020 H992 ZM992,1019 H1084 V1051.3 H992 Z M1129,880.4 H1161 V1051.3 H1129 Z M1177.2,928.4 H1298.8 V1051.3 H1177.2 ZM1208.2,959.6 V1019.2 H1266.5 V959.6 Z M1315.6,928.4 H1438.6 V1051.3 H1315.6 ZM1348,959.6 V1019.2 H1406.2 V959.6 ZM1407.5,1050.3 H1438.6 V1096.8 H1407.5 ZM1346.7,1065.7 H1438.6 V1096.8 H1346.7 Z M1454,928.4 H1485.1 V1051.3 H1454 ZM1454,882 H1485.1 V913.1 H1454 Z M1502,928.4 H1623.6 V959.6 H1533 V1019.2 H1623.6 V1051.3 H1502 Z" fill="#fff" fill-opacity="1"/>
<text x="629" y="1094.7" font-family="Liberation Sans" font-weight="bold" font-size="50" fill="#fff" fill-opacity="1" textLength="693" lengthAdjust="spacing">research &amp; development</text>
<circle cx="389.8" cy="942.9" r="13.7" fill="#fff" fill-opacity="1"/>
<circle cx="436.1" cy="942.9" r="13.7" fill="#fff" fill-opacity="1"/>
<circle cx="482.2" cy="942.9" r="13.7" fill="#fff" fill-opacity="1"/>
<circle cx="389.8" cy="989.2" r="13.7" fill="#fff" fill-opacity="1"/>
<circle cx="436.1" cy="989.2" r="13.7" fill="#fff" fill-opacity="1"/>
<circle cx="529" cy="989.2" r="13.7" fill="#fff" fill-opacity="1"/>
<circle cx="389.8" cy="1035.8" r="13.7" fill="#fff" fill-opacity="1"/>
<circle cx="529" cy="1035.8" r="13.7" fill="#fff" fill-opacity="1"/>
<circle cx="436.1" cy="1081.8" r="13.7" fill="#fff" fill-opacity="1"/>
<circle cx="482.2" cy="1081.8" r="13.7" fill="#fff" fill-opacity="1"/>
<circle cx="529" cy="1081.8" r="13.7" fill="#fff" fill-opacity="1"/>
</g>
<path d="M581.1,928.4 H704 V1051.3 H581.1 ZM611.8,959.8 V1019.6 H672 V959.8 ZM581.1,1050.3 H611.8 V1096.4 H581.1 Z M719.4,928.4 H751 V1051.3 H719.4 ZM810.8,928.4 H841.6 V1051.3 H810.8 ZM750,1019.6 H812 V1051.3 H750 Z M858.3,928.4 H890.4 V1051.3 H858.3 ZM889.4,928.4 H981.5 V959 H889.4 Z M992,928.4 H1115 V1004.6 H992 ZM1024,956 V976.6 H1084 V956 ZM992,1003.6 H1024 V1020 H992 ZM992,1019 H1084 V1051.3 H992 Z M1129,880.4 H1161 V1051.3 H1129 Z M1177.2,928.4 H1298.8 V1051.3 H1177.2 ZM1208.2,959.6 V1019.2 H1266.5 V959.6 Z M1315.6,928.4 H1438.6 V1051.3 H1315.6 ZM1348,959.6 V1019.2 H1406.2 V959.6 ZM1407.5,1050.3 H1438.6 V1096.8 H1407.5 ZM1346.7,1065.7 H1438.6 V1096.8 H1346.7 Z M1454,928.4 H1485.1 V1051.3 H1454 ZM1454,882 H1485.1 V913.1 H1454 Z M1502,928.4 H1623.6 V959.6 H1533 V1019.2 H1623.6 V1051.3 H1502 Z" fill="#fff" fill-opacity="0.72"/>
<text x="629" y="1094.7" font-family="Liberation Sans" font-weight="bold" font-size="50" fill="#fff" fill-opacity="0.85" textLength="693" lengthAdjust="spacing">research &amp; development</text>
<circle cx="389.8" cy="942.9" r="13.7" fill="#fff" fill-opacity="0.85"/>
<circle cx="436.1" cy="942.9" r="13.7" fill="#fff" fill-opacity="0.85"/>
<circle cx="482.2" cy="942.9" r="13.7" fill="#fff" fill-opacity="0.85"/>
<circle cx="389.8" cy="989.2" r="13.7" fill="#fff" fill-opacity="0.85"/>
<circle cx="436.1" cy="989.2" r="13.7" fill="#fff" fill-opacity="0.85"/>
<circle cx="529" cy="989.2" r="13.7" fill="#fff" fill-opacity="0.85"/>
<circle cx="389.8" cy="1035.8" r="13.7" fill="#fff" fill-opacity="0.85"/>
<circle cx="529" cy="1035.8" r="13.7" fill="#fff" fill-opacity="0.85"/>
<circle cx="436.1" cy="1081.8" r="13.7" fill="#fff" fill-opacity="0.85"/>
<circle cx="482.2" cy="1081.8" r="13.7" fill="#fff" fill-opacity="0.85"/>
<circle cx="529" cy="1081.8" r="13.7" fill="#fff" fill-opacity="0.85"/>
<g opacity="0.88">
<path d="M389.8,1081.8 L436.1,1035.8 H482.2 V989.2 L529,942.9" stroke="#b3c766" stroke-width="8.5" fill="none" stroke-linejoin="round"/>
<circle cx="436.1" cy="1035.8" r="13.7" fill="#b3c766"/>
<circle cx="482.2" cy="989.2" r="13.7" fill="#b3c766"/>
<circle cx="482.2" cy="1035.8" r="13.7" fill="#b3c766"/>
<circle cx="389.8" cy="1081.8" r="13.7" fill="#b3c766"/>
<circle cx="529" cy="942.9" r="13.7" fill="#b3c766"/>
</g>
</svg>
</body></html>
